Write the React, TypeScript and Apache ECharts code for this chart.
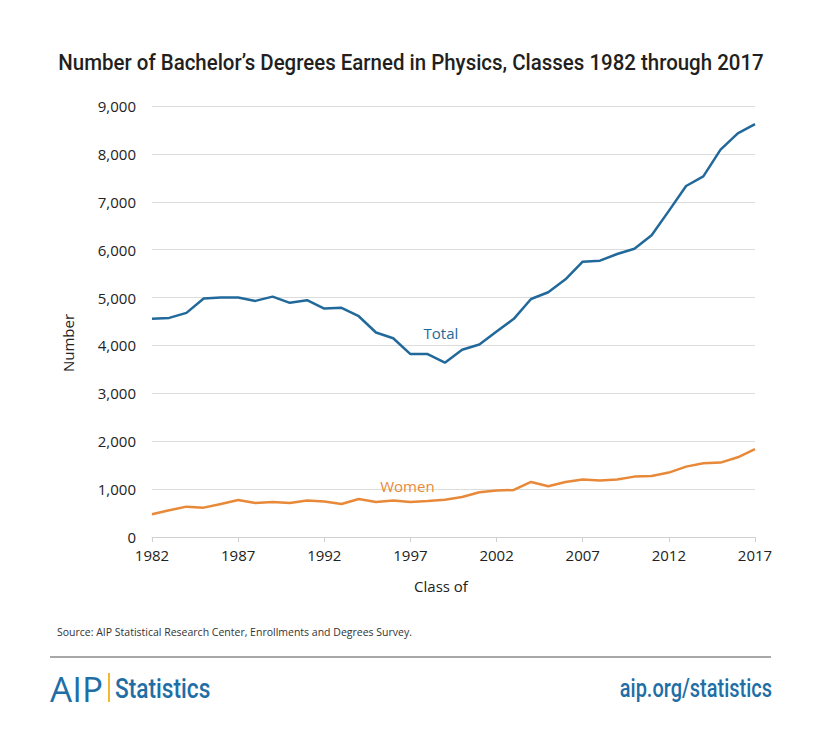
import React, { useEffect, useRef } from "react";
import * as echarts from "echarts";

const years: string[] = [];
for (let y = 1982; y <= 2017; y++) years.push(String(y));

const totalValues = [
  4555, 4575, 4680, 4980, 5000, 5000, 4930, 5020, 4890, 4945, 4770, 4785,
  4610, 4270, 4150, 3820, 3820, 3640, 3910, 4020, 4290, 4555, 4970, 5110,
  5380, 5750, 5770, 5910, 6020, 6300, 6810, 7330, 7530, 8090, 8430, 8620,
];

const womenValues = [
  474, 557, 634, 613, 690, 773, 711, 732, 711, 760, 739, 690, 794, 732, 760,
  732, 753, 780, 836, 934, 969, 983, 1150, 1059, 1150, 1199, 1178, 1199, 1261,
  1275, 1345, 1470, 1540, 1554, 1665, 1833,
];

const yTicks = [0, 1000, 2000, 3000, 4000, 5000, 6000, 7000, 8000, 9000];

const TITLE = "Number of Bachelor’s Degrees Earned in Physics, Classes 1982 through 2017";
const SOURCE = "Source: AIP Statistical Research Center, Enrollments and Degrees Survey.";

const BLUE = "#22699b";
const ORANGE = "#e8893a";
const BRAND = "#1f6ea6";
const FONT = "'Open Sans', 'Noto Sans', sans-serif";
const NARROW = "Roboto, sans-serif";

export default function App() {
  const ref = useRef<HTMLDivElement>(null);
  useEffect(() => {
    if (!ref.current) return;
    const chart = echarts.init(ref.current, undefined, { renderer: "svg" });
    chart.setOption({
      animation: false,
      backgroundColor: "#ffffff",
      textStyle: { fontFamily: FONT },
      grid: { left: 152, right: 65, top: 106, bottom: 200, containLabel: false },
      xAxis: {
        type: "category",
        data: years,
        boundaryGap: false,
        axisLine: { lineStyle: { color: "#d0d0d0", width: 1 } },
        axisTick: { show: true, interval: 4, length: 5, lineStyle: { color: "#d0d0d0" } },
        axisLabel: { interval: 4, fontSize: 15, color: "#222", margin: 10, fontFamily: FONT },
        splitLine: { show: false },
      },
      yAxis: {
        type: "value",
        min: yTicks[0],
        max: yTicks[yTicks.length - 1],
        interval: 1000,
        axisLine: { show: false },
        axisTick: { show: false },
        axisLabel: {
          fontSize: 15,
          color: "#222",
          margin: 16,
          fontFamily: FONT,
          formatter: (v: number) => v.toLocaleString("en-US"),
        },
        splitLine: { lineStyle: { color: "#dcdcdc", width: 1 } },
      },
      graphic: [
        {
          type: "text",
          x: 411,
          y: 62,
          scaleX: 0.93,
          style: {
            text: TITLE,
            fontSize: 22,
            fontFamily: NARROW,
            fontWeight: 500,
            fill: "#231f20",
            align: "center",
            verticalAlign: "middle",
          },
        },
        {
          type: "text",
          x: 68,
          y: 343,
          rotation: Math.PI / 2,
          style: {
            text: "Number",
            fontSize: 15,
            fontFamily: FONT,
            fill: "#222",
            align: "center",
            verticalAlign: "middle",
          },
        },
        {
          type: "text",
          x: 441,
          y: 586,
          style: {
            text: "Class of",
            fontSize: 15,
            fontFamily: FONT,
            fill: "#222",
            align: "center",
            verticalAlign: "middle",
          },
        },
        {
          type: "text",
          x: 57,
          y: 632,
          style: { text: SOURCE, fontSize: 10.5, fontFamily: FONT, fill: "#333", verticalAlign: "middle" },
        },
        {
          type: "line",
          shape: { x1: 50, y1: 657, x2: 771, y2: 657 },
          style: { stroke: "#a8a8a8", lineWidth: 2 },
        },
        {
          type: "text",
          x: 50,
          y: 688,
          style: {
            text: "AIP",
            fontSize: 35,
            fontFamily: FONT,
            fill: BRAND,
            verticalAlign: "middle",
            fontWeight: 500,
          },
        },
        {
          type: "rect",
          shape: { x: 108, y: 673, width: 2, height: 29 },
          style: { fill: "#f5b82e" },
        },
        {
          type: "text",
          x: 115,
          y: 689,
          scaleX: 0.84,
          style: {
            text: "Statistics",
            fontSize: 27,
            fontFamily: NARROW,
            fontWeight: 500,
            fill: BRAND,
            verticalAlign: "middle",
          },
        },
        {
          type: "text",
          x: 772,
          y: 689,
          scaleX: 0.8,
          style: {
            text: "aip.org/statistics",
            fontSize: 25,
            fontFamily: NARROW,
            fontWeight: 500,
            fill: BRAND,
            align: "right",
            verticalAlign: "middle",
          },
        },
      ],
      series: [
        {
          name: "Total",
          type: "line",
          data: totalValues,
          symbol: "none",
          lineStyle: { color: BLUE, width: 2.5 },
          itemStyle: { color: BLUE },
          markPoint: {
            symbol: "circle",
            symbolSize: 0,
            data: [{ coord: ["1999", 4260] }],
            label: {
              show: true,
              formatter: "Total",
              color: BLUE,
              fontSize: 15,
              fontFamily: FONT,
              position: "inside",
              offset: [-4, 0],
            },
          },
        },
        {
          name: "Women",
          type: "line",
          data: womenValues,
          symbol: "none",
          lineStyle: { color: ORANGE, width: 2.5 },
          itemStyle: { color: ORANGE },
          markPoint: {
            symbol: "circle",
            symbolSize: 0,
            data: [{ coord: ["1997", 1065] }],
            label: {
              show: true,
              formatter: "Women",
              color: ORANGE,
              fontSize: 15,
              fontFamily: FONT,
              position: "inside",
              offset: [-3, 0],
            },
          },
        },
      ],
    });
    return () => chart.dispose();
  }, []);
  return (
    <div
      ref={ref}
      style={{ position: "absolute", left: 0, top: 0, width: 820, height: 737 }}
    />
  );
}
